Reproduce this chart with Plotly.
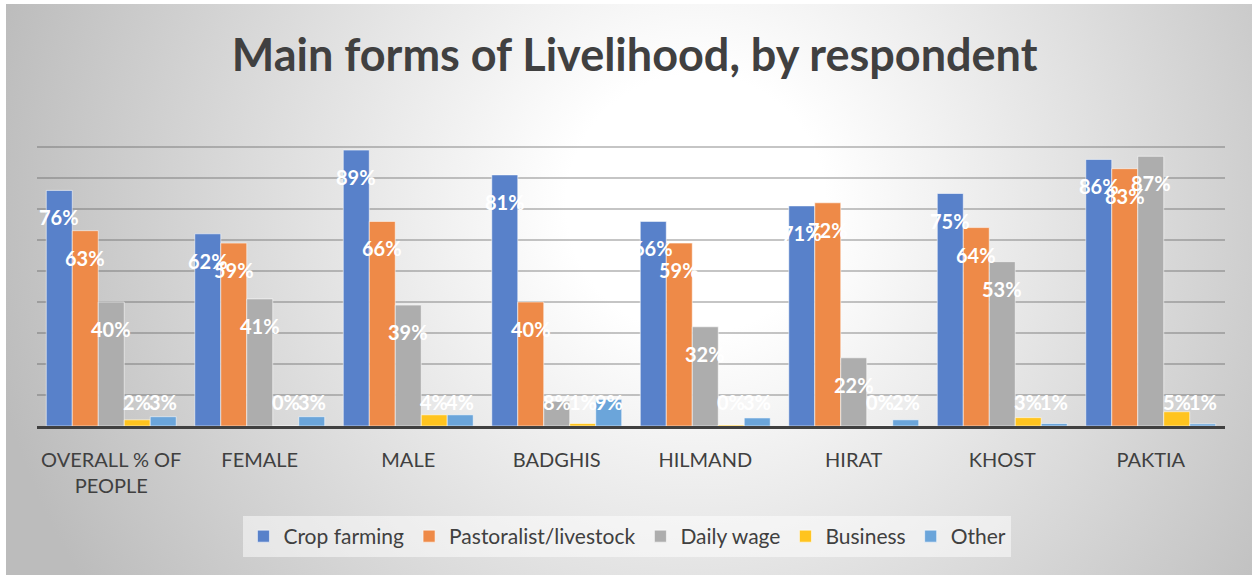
import base64
import plotly.graph_objects as go

categories = ["OVERALL % OF<br>PEOPLE", "FEMALE", "MALE", "BADGHIS", "HILMAND", "HIRAT", "KHOST", "PAKTIA"]
crop_farming = [0.76, 0.62, 0.89, 0.81, 0.66, 0.71, 0.75, 0.86]
pastoralist = [0.63, 0.59, 0.66, 0.40, 0.59, 0.72, 0.64, 0.83]
daily_wage = [0.40, 0.41, 0.39, 0.08, 0.32, 0.22, 0.53, 0.87]
business = [0.02, 0.00, 0.036, 0.008, 0.003, 0.00, 0.027, 0.046]
other = [0.03, 0.03, 0.036, 0.086, 0.026, 0.02, 0.008, 0.007]

series_names = ["Crop farming", "Pastoralist/livestock", "Daily wage", "Business", "Other"]
series_values = [crop_farming, pastoralist, daily_wage, business, other]
series_colors = ["#5881CA", "#EE8A48", "#ADADAD", "#FFC41F", "#6BA5DA"]

FONT = "Lato, 'Open Sans', sans-serif"
TXT = "#404040"
BARGAP = 0.125

# figure geometry (pixels)
W, H = 1252, 575
L, R, T, B = 37, 27, 116, 149
pw, ph = W - L - R, H - T - B

fig = go.Figure()
for name, vals, col in zip(series_names, series_values, series_colors):
    fig.add_trace(go.Bar(
        name=name, x=categories, y=vals,
        marker=dict(color=col, line=dict(color="rgba(255,255,255,0.55)", width=1)),
        hoverinfo="skip",
    ))

# data labels
bw = (1 - BARGAP) / len(series_names)
px_per_unit = ph / 1.0
annotations = []
for k, vals in enumerate(series_values):
    for i, v in enumerate(vals):
        xpos = i + (k - (len(series_names) - 1) / 2) * bw
        if v * px_per_unit - 27 >= 24:
            y, ys = v, -27
        else:
            y, ys = 0, 24
        annotations.append(dict(
            x=xpos, y=y, xref="x", yref="y", yshift=ys,
            text=f"{round(v * 100)}%", showarrow=False,
            font=dict(family=FONT, size=20, color="white", weight="bold"),
            xanchor="center", yanchor="middle",
        ))

# radial gradient background as svg
svg = f'''<svg xmlns="http://www.w3.org/2000/svg" width="1246" height="571" viewBox="0 0 1246 571" preserveAspectRatio="none">
<defs><radialGradient id="g" gradientUnits="userSpaceOnUse" cx="690" cy="200" r="720">
<stop offset="0" stop-color="#ffffff"/>
<stop offset="0.18" stop-color="#ffffff"/>
<stop offset="1" stop-color="#bcbcbc"/>
</radialGradient></defs>
<rect x="0" y="0" width="1246" height="571" fill="url(#g)"/>
</svg>'''
src = "data:image/svg+xml;base64," + base64.b64encode(svg.encode()).decode()
bx0, by0 = 6, 4
img = dict(
    source=src, xref="paper", yref="paper",
    x=(bx0 - L) / pw, y=(H - B - by0) / ph,
    sizex=(W - bx0) / pw, sizey=(H - by0) / ph,
    xanchor="left", yanchor="top", sizing="stretch", layer="below",
)

fig.update_layout(
    width=W, height=H,
    margin=dict(l=L, r=R, t=T, b=B, pad=0),
    paper_bgcolor="white", plot_bgcolor="rgba(0,0,0,0)",
    images=[img],
    barmode="group", bargap=BARGAP, bargroupgap=0,
    title=dict(text="<b>Main forms of Livelihood, by respondent</b>",
               x=0.503, xref="paper", y=1 - 55 / H, yref="container",
               xanchor="center", yanchor="middle",
               font=dict(family=FONT, size=45, color=TXT)),
    font=dict(family=FONT, color=TXT),
    showlegend=True,
    legend=dict(orientation="h", x=0.497, xanchor="center", y=(H - B - 516) / ph, yanchor="top",
                bgcolor="rgba(255,255,255,0.5)", borderwidth=0,
                font=dict(family=FONT, size=21, color=TXT), traceorder="normal"),
    annotations=annotations,
)
fig.update_xaxes(showline=True, linecolor="#404040", linewidth=3,
                 ticks="outside", ticklen=14, tickcolor="rgba(0,0,0,0)",
                 tickfont=dict(family=FONT, size=20, color=TXT), showgrid=False)
fig.update_yaxes(range=[0, 1], dtick=0.1, showticklabels=False,
                 showgrid=True, gridcolor="rgba(90,90,90,0.35)", gridwidth=1.5,
                 zeroline=False)

fig.write_html("out.html")
